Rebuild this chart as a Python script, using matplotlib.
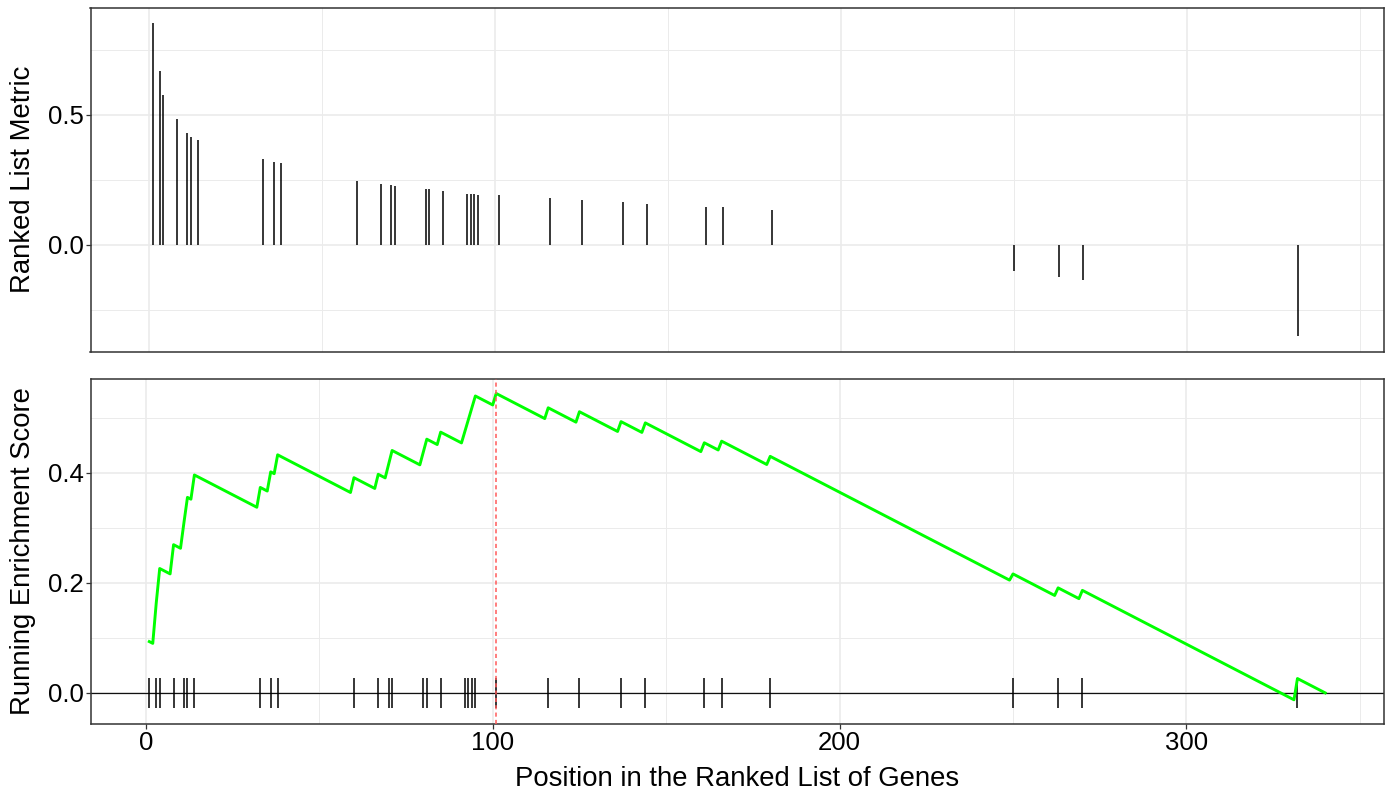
import numpy as np
import matplotlib
matplotlib.use("Agg")
import matplotlib.pyplot as plt
from matplotlib.ticker import MultipleLocator

# Gene-set hits: rank position in the ordered gene list and the ranking metric at that rank
hit_positions = [1, 3, 4, 8, 11, 12, 14, 33, 36, 38, 60, 67, 70, 71, 80, 81, 85,
                 92, 93, 94, 95, 101, 116, 125, 137, 144, 161, 166, 180,
                 250, 263, 270, 332]
hit_metric = [0.852, 0.669, 0.574, 0.485, 0.431, 0.414, 0.402, 0.329, 0.318, 0.313,
              0.246, 0.235, 0.231, 0.224, 0.213, 0.213, 0.206, 0.196, 0.196, 0.196,
              0.191, 0.191, 0.179, 0.173, 0.163, 0.158, 0.146, 0.146, 0.135,
              -0.103, -0.126, -0.137, -0.353]
n_genes = 340

x_ticks = [0, 100, 200, 300]
top_y_ticks = [0.0, 0.5]
bottom_y_ticks = [0.0, 0.2, 0.4]

# Running enrichment score (weighted Kolmogorov-Smirnov running sum, p = 1)
pos = np.arange(1, n_genes + 1)
is_hit = np.isin(pos, hit_positions)
weights = np.zeros(n_genes)
weights[np.array(hit_positions) - 1] = np.abs(hit_metric)
step = np.where(is_hit, weights / weights.sum(), -1.0 / (n_genes - len(hit_positions)))
running_es = np.cumsum(step)
peak_pos = pos[np.argmax(np.abs(running_es))]

plt.rcParams['font.family'] = ['Liberation Sans', 'DejaVu Sans']
plt.rcParams['font.size'] = 18.5
title_size = 19.8

fig = plt.figure(figsize=(13.93, 7.97), dpi=100)
ax_top = fig.add_axes([90.5 / 1393, 1 - 352 / 797, (1384 - 90.5) / 1393, (352 - 7.5) / 797])
ax_bot = fig.add_axes([90.5 / 1393, 1 - 724 / 797, (1384 - 90.5) / 1393, (724 - 379) / 797])

grid_col = '#EBEBEB'
frame_col = '#333333'


def style(ax, y_major, y_minor):
    ax.set_facecolor('white')
    ax.xaxis.set_major_locator(MultipleLocator(100))
    ax.xaxis.set_minor_locator(MultipleLocator(50))
    ax.yaxis.set_major_locator(MultipleLocator(y_major))
    ax.yaxis.set_minor_locator(MultipleLocator(y_minor))
    ax.grid(which='major', color=grid_col, linewidth=1.2, zorder=0)
    ax.grid(which='minor', color=grid_col, linewidth=0.7, zorder=0)
    ax.set_axisbelow(True)
    for s in ax.spines.values():
        s.set_color(frame_col)
        s.set_linewidth(1.1)
    ax.tick_params(which='major', length=3.5, width=0.9, color=frame_col,
                   labelcolor='black', pad=1.5)
    ax.tick_params(which='minor', length=0)


# Upper panel: ranked list metric at each hit
style(ax_top, 0.5, 0.25)
ax_top.vlines(hit_positions, 0, hit_metric, colors='black', linewidth=1.1, zorder=3)
ax_top.set_xlim(-17, 357)
ax_top.set_ylim(-0.413, 0.912)
ax_top.set_yticks(top_y_ticks)
ax_top.set_yticklabels([f'{v:.1f}' for v in top_y_ticks])
ax_top.tick_params(axis='x', which='both', length=0, labelbottom=False)
ax_top.set_ylabel('Ranked List Metric', fontsize=title_size)
ax_top.yaxis.set_label_coords(-0.0425, 0.5)

# Lower panel: running enrichment score with hit rug
style(ax_bot, 0.2, 0.1)
ax_bot.axhline(0, color='#111111', linewidth=0.9, zorder=2)
ax_bot.vlines(hit_positions, -0.0275, 0.0275, colors='black', linewidth=1.1, zorder=3)
ax_bot.plot(pos, running_es, color='#00FF00', linewidth=2.1, zorder=4)
ax_bot.axvline(peak_pos, color='#FF5A5A', linewidth=1.1, dashes=(2.7, 2.1), zorder=5)
ax_bot.set_xlim(-15.95, 356.95)
ax_bot.set_ylim(-0.0565, 0.570)
ax_bot.set_xticks(x_ticks)
ax_bot.set_xticklabels([str(v) for v in x_ticks])
ax_bot.set_yticks(bottom_y_ticks)
ax_bot.set_yticklabels([f'{v:.1f}' for v in bottom_y_ticks])
ax_bot.set_ylabel('Running Enrichment Score', fontsize=title_size)
ax_bot.yaxis.set_label_coords(-0.0425, 0.5)
ax_bot.set_xlabel('Position in the Ranked List of Genes', fontsize=title_size, labelpad=8)

fig.savefig('out.png', dpi=100, facecolor='white')
